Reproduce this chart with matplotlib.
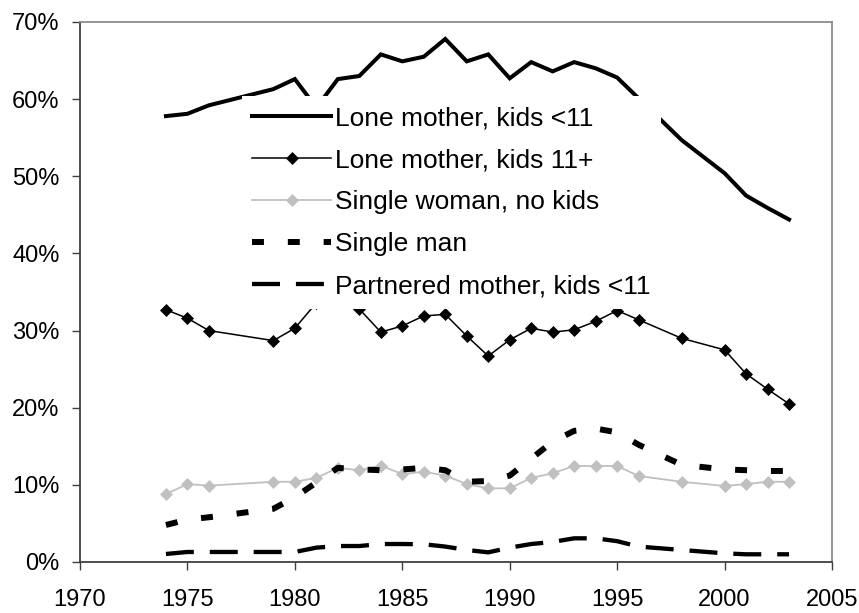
import matplotlib
matplotlib.use("Agg")
import matplotlib.pyplot as plt
from matplotlib.ticker import FuncFormatter, MultipleLocator

plt.rcParams['font.family'] = ['Liberation Sans', 'DejaVu Sans']

years = [1974, 1975, 1976, 1979, 1980, 1981, 1982, 1983, 1984, 1985, 1986, 1987, 1988,
         1989, 1990, 1991, 1992, 1993, 1994, 1995, 1996, 1998, 2000, 2001, 2002, 2003]

lone_mother_young = [57.8, 58.1, 59.2, 61.3, 62.6, 58.9, 62.6, 63.0, 65.8, 64.9, 65.5, 67.8, 64.9,
                     65.8, 62.7, 64.8, 63.6, 64.8, 64.0, 62.8, 60.1, 54.7, 50.4, 47.5, 45.9, 44.4]
lone_mother_older = [32.7, 31.6, 30.0, 28.7, 30.3, 33.6, 34.5, 32.8, 29.8, 30.6, 31.9, 32.1, 29.3,
                     26.7, 28.8, 30.3, 29.8, 30.1, 31.2, 32.6, 31.4, 29.0, 27.5, 24.4, 22.4, 20.5]
single_woman = [8.8, 10.1, 9.9, 10.4, 10.4, 10.9, 12.2, 11.9, 12.5, 11.4, 11.7, 11.2, 10.1,
                9.55, 9.55, 10.9, 11.5, 12.45, 12.45, 12.45, 11.15, 10.4, 9.86, 10.1, 10.4, 10.4]
single_man = [4.8, 5.5, 5.8, 6.9, 8.4, 10.3, 12.2, 12.0, 11.9, 12.0, 12.2, 11.9, 10.4,
              10.5, 11.2, 13.4, 15.6, 17.0, 17.3, 16.8, 15.2, 12.6, 12.0, 11.9, 11.8, 11.8]
partnered_mother = [1.04, 1.3, 1.3, 1.3, 1.3, 1.86, 2.07, 2.07, 2.33, 2.33, 2.3, 2.0, 1.56,
                    1.25, 1.86, 2.33, 2.6, 3.07, 3.07, 2.7, 2.0, 1.56, 1.12, 1.0, 1.0, 1.0]

labels = ["Lone mother, kids <11", "Lone mother, kids 11+", "Single woman, no kids",
          "Single man", "Partnered mother, kids <11"]

x_ticks = [1970, 1975, 1980, 1985, 1990, 1995, 2000, 2005]

fig = plt.figure(figsize=(8.59, 6.13), dpi=100)
ax = fig.add_axes([80/859, 1-562/613, 752/859, 540/613])

ax.plot(years, lone_mother_young, color='black', lw=2.9, solid_joinstyle='miter', label=labels[0])
ax.plot(years, lone_mother_older, color='black', lw=1.1, marker='D', ms=6.2,
        mfc='black', mec='black', mew=0.5, label=labels[1])
ax.plot(years, single_woman, color='#c0c0c0', lw=1.3, marker='D', ms=6.4,
        mfc='#c0c0c0', mec='#c0c0c0', mew=0.5, label=labels[2])
ax.plot(years, single_man, color='black', lw=4.3, dashes=(2, 4), dash_capstyle='butt',
        label=labels[3])
ax.plot(years, partnered_mother, color='black', lw=3.1, dashes=(6.5, 3.7), dash_capstyle='butt',
        label=labels[4])

ax.set_xlim(1970, 2005)
ax.set_ylim(0, 70)
ax.set_xticks(x_ticks)
ax.yaxis.set_major_locator(MultipleLocator(10))
ax.yaxis.set_major_formatter(FuncFormatter(lambda v, p: f"{v:.0f}%"))

for s in ['left', 'bottom']:
    ax.spines[s].set_color('#404040')
    ax.spines[s].set_linewidth(1.3)
for s in ['top', 'right']:
    ax.spines[s].set_color('#8c8c8c')
    ax.spines[s].set_linewidth(1.3)

ax.tick_params(axis='both', direction='out', length=5.8, width=1.0, color='#404040',
               labelsize=17, labelcolor='black')
ax.tick_params(axis='y', pad=9)
ax.tick_params(axis='x', pad=13.5)

leg = ax.legend(loc='upper left', bbox_to_anchor=(0.215, 0.863), borderaxespad=0,
                fontsize=19, frameon=True, fancybox=False, framealpha=1,
                facecolor='white', edgecolor='none', handlelength=3.0,
                handletextpad=0.15, labelspacing=0.68, borderpad=0.4)
leg.set_zorder(5)

fig.savefig("out.png", dpi=100)
